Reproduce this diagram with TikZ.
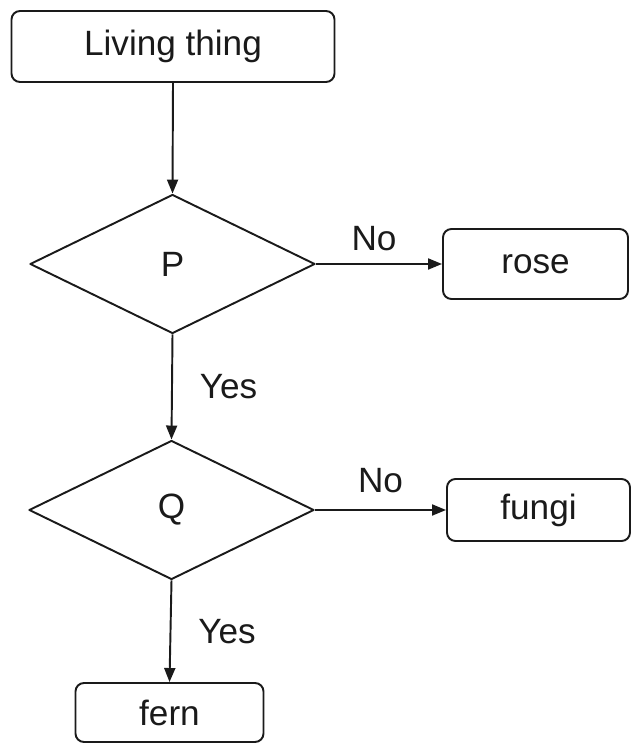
\documentclass[tikz,border=0pt]{standalone}
\usepackage{fontspec}
\setmainfont{Liberation Sans}
\usepackage{xcolor}
\usepackage{tikz}
\usetikzlibrary{arrows.meta,shapes.geometric,positioning}
\definecolor{ink}{HTML}{1A1A1A}
\tikzset{
  base/.style={draw=ink, line width=1.1pt, line join=round},
  box/.style={base, rounded corners=0.17cm, inner sep=0pt},
  dec/.style={base, diamond, inner sep=0pt, minimum width=5.7cm, minimum height=2.78cm},
  arr/.style={draw=ink, line width=1.1pt, -{Triangle[length=0.28cm, width=0.22cm]}},
  lab/.style={text=ink, font=\fontsize{20}{23}\selectfont},
}

\begin{document}
\begin{tikzpicture}
  \useasboundingbox (0,0) rectangle (12.64,14.86);

  \node[box, lab, minimum width=6.46cm, minimum height=1.42cm] (living) at (3.46,13.93) {Living thing};
  \node[dec, lab] (P) at (3.45,9.58) {P};
  \node[box, lab, minimum width=3.7cm, minimum height=1.4cm] (rose) at (10.71,9.58) {rose};
  \node[dec, lab] (Q) at (3.43,4.66) {Q};
  \node[box, lab, minimum width=3.66cm, minimum height=1.24cm] (fungi) at (10.77,4.66) {fungi};
  \node[box, lab, minimum width=3.76cm, minimum height=1.18cm] (fern) at (3.39,0.61) {fern};

  \draw[arr] (living.south) -- (P.north);
  \draw[arr] (P.east) -- node[lab, above=0.12cm, xshift=-0.1cm] (no1) {No} (rose.west);
  \draw[arr] (P.south) -- node[lab, right=0.42cm] (yes1) {Yes} (Q.north);
  \draw[arr] (Q.east) -- node[lab, above=0.2cm] (no2) {No} (fungi.west);
  \draw[arr] (Q.south) -- node[lab, right=0.42cm] (yes2) {Yes} (fern.north);
\end{tikzpicture}
\end{document}
